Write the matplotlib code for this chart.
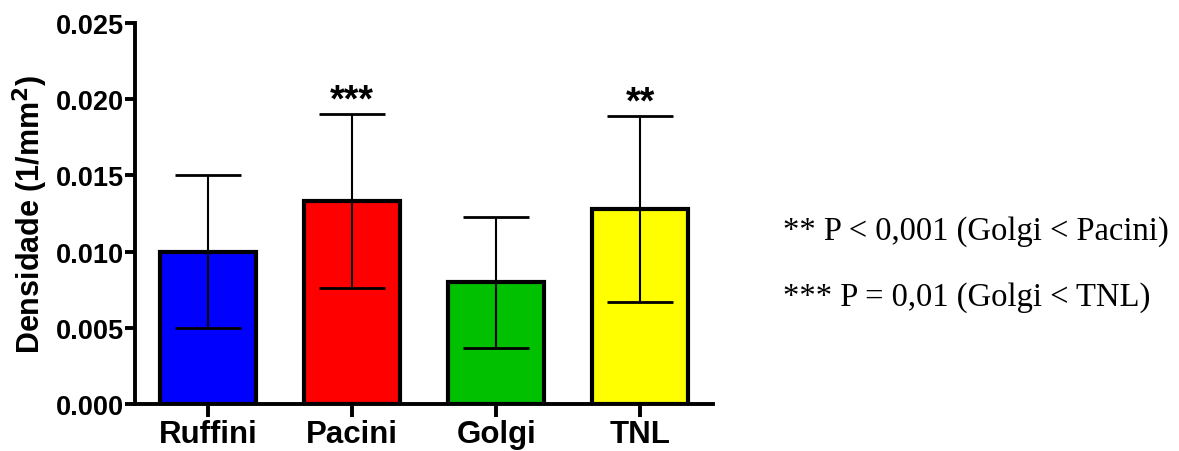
import matplotlib
matplotlib.use("Agg")
import matplotlib.pyplot as plt
import numpy as np

categories = ["Ruffini", "Pacini", "Golgi", "TNL"]
means = [0.0100, 0.0133, 0.0080, 0.0128]
errors = [0.0050, 0.0057, 0.0043, 0.0061]
colors = ["#0000ff", "#ff0000", "#00c000", "#ffff00"]
stars = ["", "***", "", "**"]
yticks = [0.000, 0.005, 0.010, 0.015, 0.020, 0.025]
notes = ["** P < 0,001 (Golgi < Pacini)", "*** P = 0,01 (Golgi < TNL)"]

fig = plt.figure(figsize=(11.79, 4.52), dpi=100)
ax = fig.add_axes([0.1145, 0.104, 0.4905, 0.843])

x = np.arange(len(categories))
ax.bar(x, means, width=0.667, color=colors, edgecolor="black", linewidth=3, zorder=2)
ax.errorbar(x, means, yerr=errors, fmt="none", ecolor="black", elinewidth=1.5,
            capsize=24, capthick=2, zorder=3)
for xi, m, e, s in zip(x, means, errors, stars):
    if s:
        ax.annotate(s, (xi, m + e), xytext=(0, -3), textcoords="offset points",
                    ha="center", va="bottom", fontsize=27, fontweight="bold",
                    family="Liberation Sans")

ax.set_xlim(-0.507, 3.507)
ax.set_ylim(0, 0.025)
ax.set_yticks(yticks)
ax.set_yticklabels([f"{v:.3f}" for v in yticks])
ax.set_xticks(x)
ax.set_xticklabels(categories)
for lab in ax.get_xticklabels() + ax.get_yticklabels():
    lab.set_family("Liberation Sans")
    lab.set_fontweight("bold")
for lab in ax.get_yticklabels():
    lab.set_fontsize(19.5)
for lab in ax.get_xticklabels():
    lab.set_fontsize(22.5)
ax.set_ylabel("Densidade (1/mm$^\\mathbf{2}$)", fontsize=22, fontweight="bold",
              family="Liberation Sans", labelpad=4)

for side in ["top", "right"]:
    ax.spines[side].set_visible(False)
for side in ["left", "bottom"]:
    ax.spines[side].set_linewidth(2.8)
ax.tick_params(axis="y", length=7, width=2.8, pad=1)
ax.tick_params(axis="x", length=9, width=2.8, pad=2)

fig.text(0.664, 0.487, notes[0], fontsize=23.5, family="Liberation Serif", va="center", ha="left")
fig.text(0.664, 0.341, notes[1], fontsize=23.5, family="Liberation Serif", va="center", ha="left")

fig.savefig("out.png", dpi=100)
